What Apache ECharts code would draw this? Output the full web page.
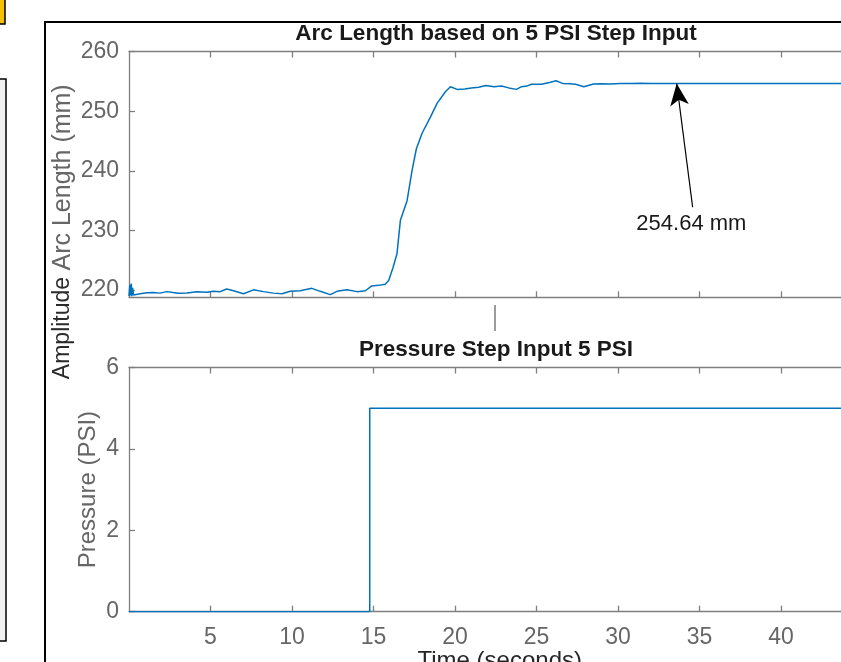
<!DOCTYPE html>
<html>
<head>
<meta charset="utf-8">
<script src="https://cdn.jsdelivr.net/npm/echarts@6/dist/echarts.min.js"></script>
<style>
  html, body { margin: 0; padding: 0; background: #fff; }
  #main { width: 841px; height: 662px; }
</style>
</head>
<body>
<div id="main"></div>
<script>
// arc length response (mm)
const arcTime = [0, 0.05, 0.1, 0.14, 0.18, 0.22, 0.28, 0.35, 0.68, 1.1, 1.5, 1.9, 2.32, 2.7, 3.03, 3.55,
  4.16, 4.77, 5.18, 5.59, 6.0, 6.41, 7.02, 7.64, 8.25, 8.86, 9.38, 9.89, 10.5, 11.22, 11.73, 12.35,
  12.76, 13.37, 13.99, 14.5, 14.9, 15.3, 15.72, 15.93, 16.2, 16.44, 16.65, 17.06, 17.37, 17.63, 17.98,
  18.49, 18.9, 19.41, 19.72, 20.13, 20.6, 21.0, 21.45, 21.9, 22.4, 22.85, 23.3, 23.77, 24.08, 24.4,
  24.69, 25.3, 25.8, 26.2, 26.6, 27.0, 27.4, 27.9, 28.5, 28.93, 29.5, 30.16, 30.8, 31.4, 32, 45];
const arcValue = [219.0, 220.9, 219.1, 221.1, 219.0, 220.4, 219.2, 219.5, 219.4, 219.55, 219.6, 219.5,
  219.75, 219.6, 219.47, 219.53, 219.75, 219.65, 219.8, 219.75, 220.2, 219.9, 219.4, 220.05, 219.75,
  219.5, 219.4, 219.8, 219.9, 220.3, 219.8, 219.25, 219.8, 220.05, 219.75, 219.9, 220.7, 220.8, 221.0,
  221.6, 223.8, 226.1, 231.7, 235.0, 240.1, 243.7, 246.3, 249.0, 251.3, 253.25, 254.1, 253.65, 253.7,
  253.9, 254.0, 254.3, 254.1, 254.2, 253.9, 253.65, 254.1, 254.2, 254.5, 254.5, 254.8, 255.1, 254.65,
  254.6, 254.5, 254.1, 254.55, 254.6, 254.55, 254.65, 254.62, 254.66, 254.64, 254.64];

// pressure step input (PSI)
const psiTime = [0, 14.77, 14.77, 45];
const psiValue = [0, 0, 5, 5];

const timeTicks = [5, 10, 15, 20, 25, 30, 35, 40];
const arcTicks = [220, 230, 240, 250, 260];
const finalValue = 254.64;

const gray = '#7f7f7f';
const tickColor = '#666666';
const font = 'Liberation Sans, Arial, sans-serif';

function xAx(grid, pos, labels) {
  return {
    type: 'value', gridIndex: grid, position: pos, min: 0, max: 45,
    axisLine: { show: true, onZero: false, lineStyle: { color: gray, width: 1.3 } },
    axisTick: { show: true, inside: true, length: 6, customValues: timeTicks, lineStyle: { color: gray, width: 1.3 } },
    axisLabel: { show: labels, customValues: timeTicks, margin: 14, color: tickColor, fontSize: 23, fontFamily: font },
    splitLine: { show: false }
  };
}

const myChart = echarts.init(document.getElementById('main'));
const option = {
  animation: false,
  backgroundColor: '#fff',
  grid: [
    { left: 129, top: 51.5, width: 733.5, height: 245.8, outerBoundsMode: 'none' },
    { left: 129, top: 367.5, width: 733.5, height: 244.2, outerBoundsMode: 'none' }
  ],
  xAxis: [
    xAx(0, 'bottom', false),
    xAx(0, 'top', false),
    Object.assign(xAx(1, 'bottom', true), {
      name: 'Time (seconds)', nameLocation: 'middle', nameGap: 38, nameMoveOverlap: false,
      nameTextStyle: { color: '#262626', fontSize: 24, fontFamily: font, padding: [0, 0, 0, 8] }
    }),
    xAx(1, 'top', false)
  ],
  yAxis: [
    {
      type: 'value', gridIndex: 0, min: 218.8, max: 260,
      name: 'Arc Length (mm)', nameLocation: 'middle', nameGap: 53, nameMoveOverlap: false,
      nameTextStyle: { color: tickColor, fontSize: 25, fontFamily: font, padding: [0, 6, 0, 0] },
      axisLine: { show: true, onZero: false, lineStyle: { color: gray, width: 1.3 } },
      axisTick: { show: true, inside: true, length: 6, customValues: arcTicks, lineStyle: { color: gray, width: 1.3 } },
      axisLabel: { customValues: arcTicks, margin: 10, color: tickColor, fontSize: 23, fontFamily: font },
      splitLine: { show: false }
    },
    {
      type: 'value', gridIndex: 1, min: 0, max: 6, interval: 2,
      name: 'Pressure (PSI)', nameLocation: 'middle', nameGap: 29, nameMoveOverlap: false,
      nameTextStyle: { color: tickColor, fontSize: 24, fontFamily: font },
      axisLine: { show: true, onZero: false, lineStyle: { color: gray, width: 1.3 } },
      axisTick: { show: true, inside: true, length: 6, lineStyle: { color: gray, width: 1.3 } },
      axisLabel: { margin: 10, color: tickColor, fontSize: 23, fontFamily: font },
      splitLine: { show: false }
    }
  ],
  series: [
    {
      type: 'line', xAxisIndex: 0, yAxisIndex: 0,
      data: arcTime.map((t, i) => [t, arcValue[i]]),
      showSymbol: false, silent: true,
      lineStyle: { color: '#0072BD', width: 1.5 },
      markLine: {
        silent: true, animation: false,
        lineStyle: { color: '#000', width: 1.2, type: 'solid' },
        label: { show: false },
        data: [[
          { coord: [33.6, finalValue], symbol: 'arrow', symbolSize: [14, 22] },
          { coord: [34.58, 233.9], symbol: 'none' }
        ]]
      },
      markPoint: {
        silent: true, animation: false,
        symbol: 'circle', symbolSize: 0,
        label: { show: true, position: 'inside', color: '#1a1a1a', fontSize: 22, fontFamily: font, formatter: finalValue + ' mm' },
        data: [{ coord: [34.5, 231.1] }]
      }
    },
    {
      type: 'line', xAxisIndex: 2, yAxisIndex: 1,
      data: psiTime.map((t, i) => [t, psiValue[i]]),
      showSymbol: false, silent: true,
      lineStyle: { color: '#0072BD', width: 1.5 }
    }
  ],
  graphic: [
    { type: 'rect', shape: { x: -2, y: -2, width: 7, height: 26 }, style: { fill: '#f5c000', stroke: '#000', lineWidth: 1.5 } },
    { type: 'rect', shape: { x: -2, y: 79, width: 8, height: 562 }, style: { fill: '#f0f0f0', stroke: '#000', lineWidth: 1.5 } },
    { type: 'line', shape: { x1: 495, y1: 305, x2: 495, y2: 331 }, style: { stroke: '#666', lineWidth: 1.3 } },
    { type: 'text', x: 496, y: 34, style: { text: 'Arc Length based on 5 PSI Step Input', align: 'center', verticalAlign: 'middle', fill: '#1a1a1a', font: 'bold 22.5px ' + font } },
    { type: 'text', x: 496, y: 350, style: { text: 'Pressure Step Input 5 PSI', align: 'center', verticalAlign: 'middle', fill: '#1a1a1a', font: 'bold 22.5px ' + font } },
    { type: 'text', x: 63, y: 328, rotation: Math.PI / 2, style: { text: 'Amplitude', align: 'center', verticalAlign: 'middle', fill: '#2a2a2a', font: '23px ' + font } },
    { type: 'polyline', shape: { points: [[45, 662], [45, 22], [845, 22]] }, style: { stroke: '#000', lineWidth: 2, fill: null } }
  ]
};
myChart.setOption(option);
</script>
</body>
</html>
